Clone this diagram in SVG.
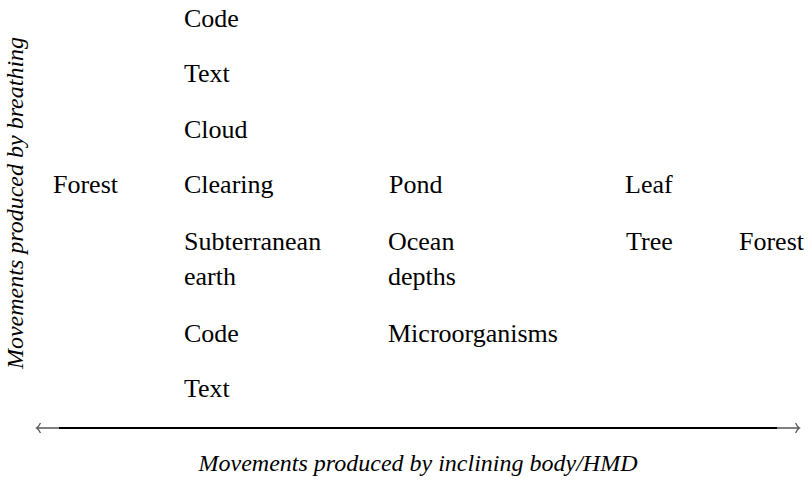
<svg xmlns="http://www.w3.org/2000/svg" width="811" height="482" viewBox="0 0 811 482">
<style>
  text { fill: #000; font-family: "Liberation Serif", "Times New Roman", "DejaVu Serif", serif; }
  .n { font-size: 26px; }
  .ax { font-size: 24px; font-style: italic; }
  .thin { stroke: #555; stroke-width: 1.3; fill: none; }
  .thick { stroke: #000; stroke-width: 2; fill: none; }
</style>
<rect width="811" height="482" fill="#fff"/>
<g id="axis-y"><text class="ax" transform="translate(23,203) rotate(-90)" text-anchor="middle">Movements produced by breathing</text></g>
<g id="axis-x-label"><text class="ax" x="418" y="471" text-anchor="middle" font-size="24.4">Movements produced by inclining body/HMD</text></g>
<g id="n-code1"><text class="n" x="184" y="27">Code</text></g>
<g id="n-text1"><text class="n" x="184" y="82">Text</text></g>
<g id="n-cloud"><text class="n" x="184" y="138">Cloud</text></g>
<g id="n-forest-left"><text class="n" x="53" y="193">Forest</text></g>
<g id="n-clearing"><text class="n" x="184" y="193">Clearing</text></g>
<g id="n-pond"><text class="n" x="389" y="193">Pond</text></g>
<g id="n-leaf"><text class="n" x="625" y="193">Leaf</text></g>
<g id="n-subterranean"><text class="n" x="184" y="250">Subterranean<tspan x="184" y="285">earth</tspan></text></g>
<g id="n-ocean"><text class="n" x="388" y="250">Ocean<tspan x="388" y="285">depths</tspan></text></g>
<g id="n-tree"><text class="n" x="626" y="250">Tree</text></g>
<g id="n-forest-right"><text class="n" x="739" y="250">Forest</text></g>
<g id="n-code2"><text class="n" x="184" y="342">Code</text></g>
<g id="n-micro"><text class="n" x="388" y="342">Microorganisms</text></g>
<g id="n-text2"><text class="n" x="184" y="397">Text</text></g>
<g id="connectors">
  <line class="thin" x1="37" y1="428" x2="799" y2="428"/>
  <path class="thin" d="M40.5,423 Q38.5,427 36.5,428 Q38.5,429 40.5,433"/>
  <path class="thin" d="M795.5,423 Q797.5,427 799.5,428 Q797.5,429 795.5,433"/>
  <line class="thick" x1="59" y1="428" x2="777" y2="428"/>
</g>
</svg>
